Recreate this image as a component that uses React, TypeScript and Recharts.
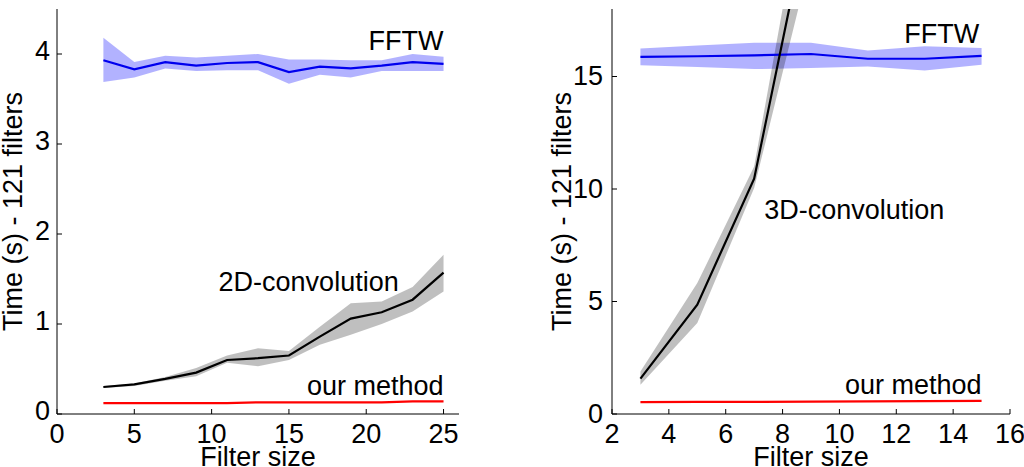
import React from "react";
import { ComposedChart, Line, Area, XAxis, YAxis, ReferenceDot } from "recharts";

// left panel: 2D filters
const SIZES_2D = [3, 5, 7, 9, 11, 13, 15, 17, 19, 21, 23, 25];
const FFTW_2D = [3.93, 3.83, 3.91, 3.87, 3.9, 3.91, 3.8, 3.86, 3.84, 3.87, 3.91, 3.89];
const FFTW_2D_LO = [3.69, 3.74, 3.84, 3.81, 3.82, 3.82, 3.67, 3.77, 3.74, 3.81, 3.81, 3.81];
const FFTW_2D_HI = [4.18, 3.91, 3.98, 3.96, 3.98, 4.0, 3.94, 3.94, 3.93, 3.93, 4.0, 3.97];
const CONV_2D = [0.3, 0.33, 0.39, 0.46, 0.6, 0.62, 0.65, 0.86, 1.06, 1.13, 1.27, 1.57];
const CONV_2D_LO = [0.29, 0.31, 0.37, 0.42, 0.57, 0.53, 0.6, 0.77, 0.88, 1.0, 1.14, 1.36];
const CONV_2D_HI = [0.31, 0.34, 0.41, 0.51, 0.65, 0.73, 0.7, 0.97, 1.23, 1.25, 1.41, 1.77];
const OURS_2D = [0.12, 0.12, 0.12, 0.12, 0.12, 0.13, 0.13, 0.13, 0.13, 0.13, 0.14, 0.14];

// right panel: 3D filters
const SIZES_3D = [3, 5, 7, 9, 11, 13, 15];
const FFTW_3D = [15.87, 15.9, 15.94, 16.0, 15.79, 15.79, 15.92];
const FFTW_3D_LO = [15.5, 15.42, 15.33, 15.38, 15.45, 15.27, 15.52];
const FFTW_3D_HI = [16.24, 16.38, 16.5, 16.5, 16.16, 16.34, 16.27];
const CONV_3D = [1.57, 4.86, 10.46, 22.7];
const CONV_3D_LO = [1.3, 4.04, 10.04, 20.3];
const CONV_3D_HI = [1.89, 5.82, 11.0, 25.0];
const OURS_3D = [0.53, 0.54, 0.54, 0.55, 0.56, 0.57, 0.58];

const X_TICKS_2D = [0, 5, 10, 15, 20, 25];
const Y_TICKS_2D = [0, 1, 2, 3, 4];
const X_TICKS_3D = [2, 4, 6, 8, 10, 12, 14, 16];
const Y_TICKS_3D = [0, 5, 10, 15];

const FONT = "'Liberation Sans', Arial, sans-serif";
const FS = 27;

const build = (sizes, fftw, fLo, fHi, conv, cLo, cHi, ours) =>
  sizes.map((s, i) => ({
    size: s,
    fftw: fftw[i],
    fftwBand: [fLo[i], fHi[i]],
    conv: conv[i] ?? null,
    convBand: conv[i] != null ? [cLo[i], cHi[i]] : null,
    ours: ours[i],
  }));

const data2d = build(SIZES_2D, FFTW_2D, FFTW_2D_LO, FFTW_2D_HI, CONV_2D, CONV_2D_LO, CONV_2D_HI, OURS_2D);
const data3d = build(SIZES_3D, FFTW_3D, FFTW_3D_LO, FFTW_3D_HI, CONV_3D, CONV_3D_LO, CONV_3D_HI, OURS_3D);

const tickStyle = { fill: "#000", fontSize: FS, fontFamily: FONT };

const note = (text: string) => (p: any) => (
  <text x={p.cx} y={p.cy} dy="0.36em" textAnchor="end" fontSize={FS} fontFamily={FONT} fill="#000">
    {text}
  </text>
);

function Panel({ data, xDomain, xTicks, yDomain, yTicks, yAxisW, margin, yLabelX, notes, convName }: any) {
  return (
    <ComposedChart width={margin.w} height={467} data={data} margin={{ top: 9, right: margin.right, bottom: 0, left: 0 }}>
      <XAxis
        dataKey="size"
        type="number"
        domain={xDomain}
        ticks={xTicks}
        allowDataOverflow
        height={53}
        tickSize={-5}
        tickMargin={15}
        tick={tickStyle}
        stroke="#000"
        label={{
          content: ({ viewBox }: any) => (
            <text x={viewBox.x + viewBox.width / 2} y={viewBox.y + viewBox.height - 1} textAnchor="middle" fontSize={FS} fontFamily={FONT} fill="#000">
              Filter size
            </text>
          ),
        }}
      />
      <XAxis xAxisId="top" orientation="top" dataKey="size" type="number" domain={xDomain} ticks={xTicks} allowDataOverflow height={0} tickSize={-5} tick={false} stroke="#000" />
      <YAxis
        type="number"
        domain={yDomain}
        ticks={yTicks}
        allowDataOverflow
        width={yAxisW}
        tickSize={-5}
        tickMargin={margin.tm}
        tick={{ ...tickStyle, dy: margin.tdy }}
        stroke="#000"
        label={{
          content: ({ viewBox }: any) => {
            const cy = viewBox.y + viewBox.height / 2;
            return (
              <text x={yLabelX} y={cy} transform={`rotate(-90, ${yLabelX}, ${cy})`} dy="0.36em" textAnchor="middle" fontSize={FS} fontFamily={FONT} fill="#000">
                Time (s) - 121 filters
              </text>
            );
          },
        }}
      />
      <YAxis yAxisId="right" orientation="right" type="number" domain={yDomain} ticks={yTicks} allowDataOverflow width={0} tickSize={-5} tick={false} stroke="#000" />

      <Area dataKey="fftwBand" stroke="none" fill="#0000ff" fillOpacity={0.3} isAnimationActive={false} />
      <Area dataKey="convBand" stroke="none" fill="#000" fillOpacity={0.25} isAnimationActive={false} />
      <Line dataKey="ours" stroke="#ff0000" strokeWidth={2.2} dot={false} isAnimationActive={false} />
      <Line dataKey="fftw" stroke="#0000ee" strokeWidth={2.2} dot={false} isAnimationActive={false} />
      <Line dataKey="conv" stroke="#000" strokeWidth={2.2} dot={false} isAnimationActive={false} />

      <ReferenceDot x={notes[0][0]} y={notes[0][1]} r={0} shape={note("FFTW")} />
      <ReferenceDot x={notes[1][0]} y={notes[1][1]} r={0} shape={note(convName)} />
      <ReferenceDot x={notes[2][0]} y={notes[2][1]} r={0} shape={note("our method")} />
    </ComposedChart>
  );
}

export default function App() {
  return (
    <div style={{ position: "absolute", left: 0, top: 0, width: 1024, height: 467, background: "#fff" }}>
      <div style={{ position: "absolute", left: 0, top: 0 }}>
        <Panel
          data={data2d}
          xDomain={[0, 26]}
          xTicks={X_TICKS_2D}
          yDomain={[0, 4.5]}
          yTicks={Y_TICKS_2D}
          yAxisW={57}
          margin={{ w: 470, right: 11, tm: 12, tdy: -4 }}
          yLabelX={12}
          convName="2D-convolution"
          notes={[[25, 4.15], [22.1, 1.47], [25, 0.32]]}
        />
      </div>
      <div style={{ position: "absolute", left: 540, top: 0 }}>
        <Panel
          data={data3d}
          xDomain={[2, 16]}
          xTicks={X_TICKS_3D}
          yDomain={[0, 18]}
          yTicks={Y_TICKS_3D}
          yAxisW={72}
          margin={{ w: 484, right: 14, tm: 14, tdy: -1 }}
          yLabelX={21}
          convName="3D-convolution"
          notes={[[14.92, 16.93], [13.69, 9.08], [15, 1.32]]}
        />
      </div>
    </div>
  );
}
